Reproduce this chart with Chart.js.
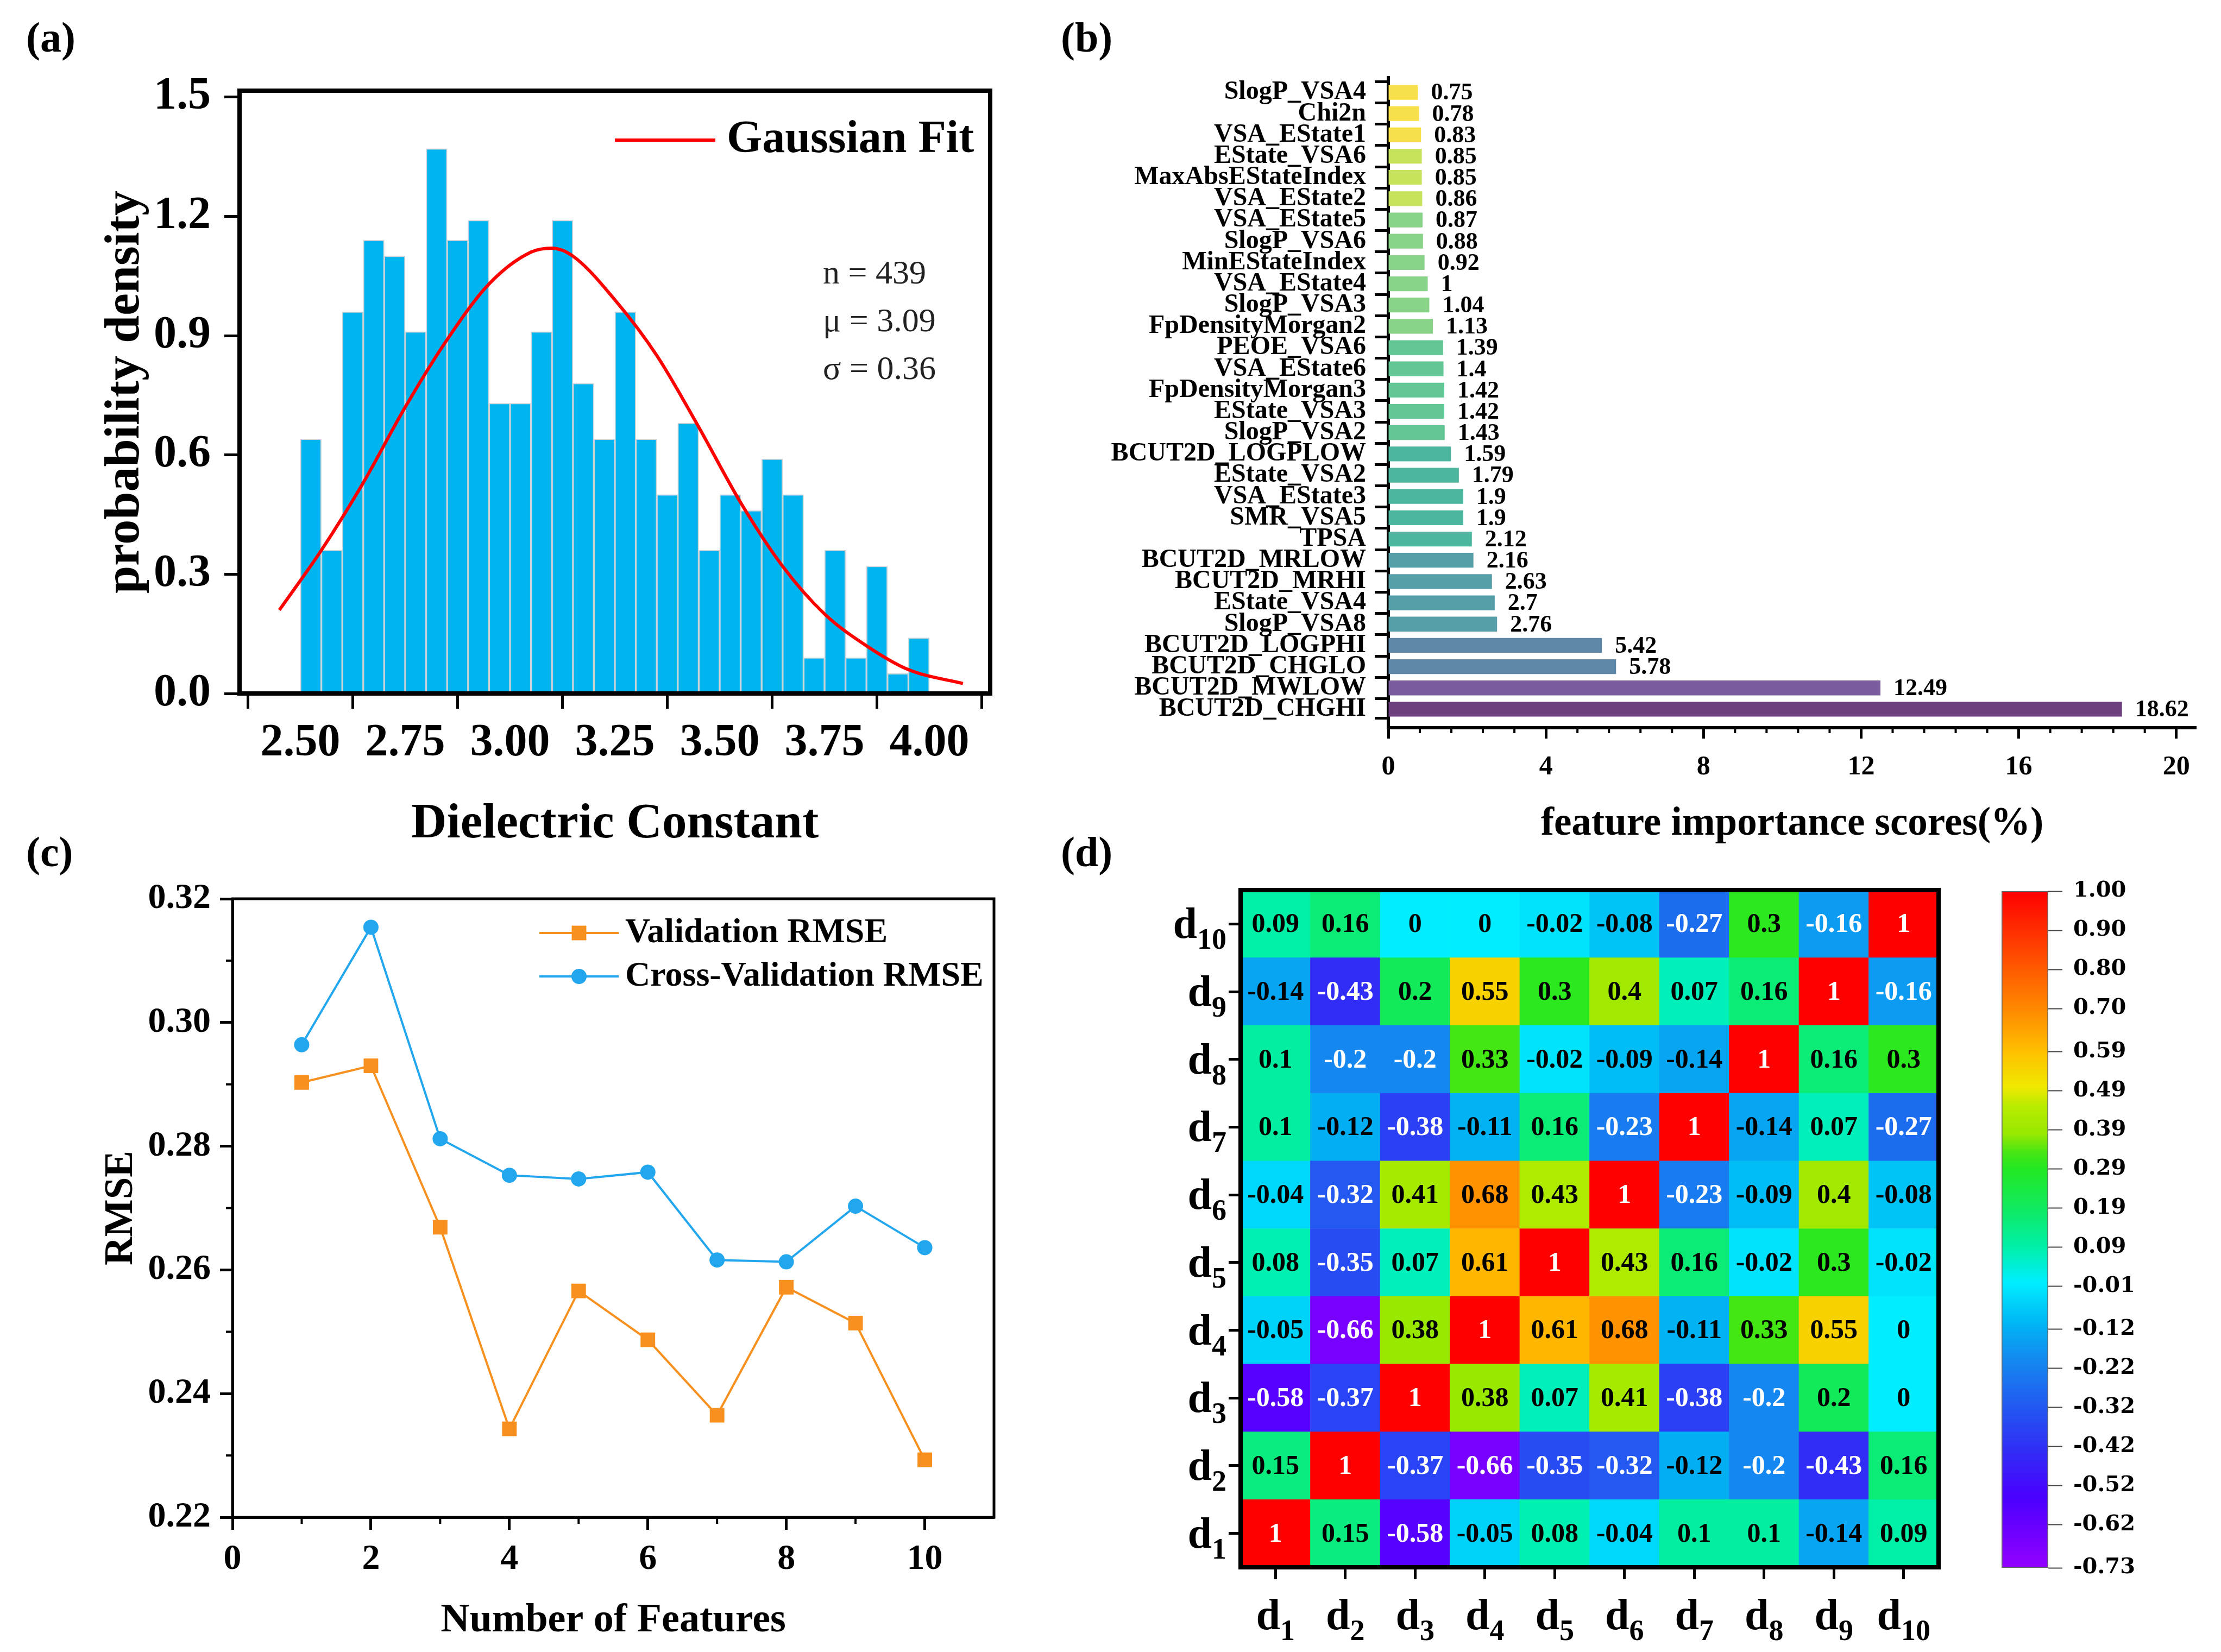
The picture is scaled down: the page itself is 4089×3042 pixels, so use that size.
<!DOCTYPE html>
<html>
<head>
<meta charset="utf-8">
<title>Dielectric constant figure</title>
<script src="https://cdn.jsdelivr.net/npm/chart.js@4.4.1/dist/chart.umd.min.js"></script>
<style>
  html, body { margin: 0; padding: 0; background: #fff; }
  body { position: relative; width: 4089px; height: 3042px; overflow: hidden; }
  canvas { position: absolute; }
  .tag { position: absolute; font: bold 78px "Liberation Serif", "Times New Roman", serif; line-height: 1; color: #000; }
</style>
</head>
<body>
<div class="tag" style="left:48px;top:30px">(a)</div>
<div class="tag" style="left:1953px;top:30px">(b)</div>
<div class="tag" style="left:48px;top:1530px">(c)</div>
<div class="tag" style="left:1953px;top:1530px">(d)</div>
<canvas id="histChart" width="1715" height="1464" style="left:185px;top:100px"></canvas>
<canvas id="importanceChart" width="2139" height="1455" style="left:1950px;top:100px"></canvas>
<canvas id="rmseChart" width="1712" height="1422" style="left:188px;top:1600px"></canvas>
<canvas id="corrChart" width="1450" height="1452" style="left:2150px;top:1590px"></canvas>
<canvas id="colorbarChart" width="439" height="1360" style="left:3650px;top:1590px"></canvas>
<script>
// ---------------- (a) histogram + gaussian fit ----------------
const binCenters = [2.525, 2.575, 2.625, 2.675, 2.725, 2.775, 2.825, 2.875, 2.925, 2.975,
                    3.025, 3.075, 3.125, 3.175, 3.225, 3.275, 3.325, 3.375, 3.425, 3.475,
                    3.525, 3.575, 3.625, 3.675, 3.725, 3.775, 3.825, 3.875, 3.925, 3.975];
const density = [0.64, 0.36, 0.96, 1.14, 1.10, 0.91, 1.37, 1.14, 1.19, 0.73,
                 0.73, 0.91, 1.19, 0.78, 0.64, 0.96, 0.64, 0.50, 0.68, 0.36,
                 0.50, 0.46, 0.59, 0.50, 0.09, 0.36, 0.09, 0.32, 0.05, 0.14];
const fitX = [2.45, 2.55, 2.65, 2.75, 2.85, 2.95, 3.05, 3.10, 3.15, 3.25, 3.35, 3.45, 3.55, 3.65, 3.75, 3.85, 3.95, 4.08];
const fitY = [0.21, 0.36, 0.53, 0.72, 0.89, 1.03, 1.11, 1.12, 1.10, 0.99, 0.85, 0.67, 0.48, 0.32, 0.20, 0.12, 0.06, 0.025];
const histXTicks = [2.50, 2.75, 3.00, 3.25, 3.50, 3.75, 4.00];
const histYTicks = [0, 0.3, 0.6, 0.9, 1.2, 1.5];
const fitStats = ['n = 439', 'μ = 3.09', 'σ = 0.36'];

// ---------------- (b) feature importance ----------------
const featureNames = ['SlogP_VSA4', 'Chi2n', 'VSA_EState1', 'EState_VSA6', 'MaxAbsEStateIndex',
  'VSA_EState2', 'VSA_EState5', 'SlogP_VSA6', 'MinEStateIndex', 'VSA_EState4',
  'SlogP_VSA3', 'FpDensityMorgan2', 'PEOE_VSA6', 'VSA_EState6', 'FpDensityMorgan3',
  'EState_VSA3', 'SlogP_VSA2', 'BCUT2D_LOGPLOW', 'EState_VSA2', 'VSA_EState3',
  'SMR_VSA5', 'TPSA', 'BCUT2D_MRLOW', 'BCUT2D_MRHI', 'EState_VSA4',
  'SlogP_VSA8', 'BCUT2D_LOGPHI', 'BCUT2D_CHGLO', 'BCUT2D_MWLOW', 'BCUT2D_CHGHI'];
const importance = [0.75, 0.78, 0.83, 0.85, 0.85, 0.86, 0.87, 0.88, 0.92, 1,
  1.04, 1.13, 1.39, 1.4, 1.42, 1.42, 1.43, 1.59, 1.79, 1.9,
  1.9, 2.12, 2.16, 2.63, 2.7, 2.76, 5.42, 5.78, 12.49, 18.62];
const importanceTicks = [0, 4, 8, 12, 16, 20];

// ---------------- (c) RMSE vs number of features ----------------
const featureCounts = [1, 2, 3, 4, 5, 6, 7, 8, 9, 10];
const valRmse = [0.2903, 0.2930, 0.2669, 0.2343, 0.2566, 0.2487, 0.2365, 0.2572, 0.2514, 0.2293];
const cvRmse = [0.2964, 0.3154, 0.2812, 0.2753, 0.2747, 0.2758, 0.2616, 0.2613, 0.2703, 0.2636];
const rmseTicks = [0.22, 0.24, 0.26, 0.28, 0.30, 0.32];
const countTicks = [0, 2, 4, 6, 8, 10];

// ---------------- (d) correlation matrix ----------------
const dIndex = ['1', '2', '3', '4', '5', '6', '7', '8', '9', '10'];
// rows d1..d10 (bottom to top), columns d1..d10
const corr = [
  [1, 0.15, -0.58, -0.05, 0.08, -0.04, 0.1, 0.1, -0.14, 0.09],
  [0.15, 1, -0.37, -0.66, -0.35, -0.32, -0.12, -0.2, -0.43, 0.16],
  [-0.58, -0.37, 1, 0.38, 0.07, 0.41, -0.38, -0.2, 0.2, 0],
  [-0.05, -0.66, 0.38, 1, 0.61, 0.68, -0.11, 0.33, 0.55, 0],
  [0.08, -0.35, 0.07, 0.61, 1, 0.43, 0.16, -0.02, 0.3, -0.02],
  [-0.04, -0.32, 0.41, 0.68, 0.43, 1, -0.23, -0.09, 0.4, -0.08],
  [0.1, -0.12, -0.38, -0.11, 0.16, -0.23, 1, -0.14, 0.07, -0.27],
  [0.1, -0.2, -0.2, 0.33, -0.02, -0.09, -0.14, 1, 0.16, 0.3],
  [-0.14, -0.43, 0.2, 0.55, 0.3, 0.4, 0.07, 0.16, 1, -0.16],
  [0.09, 0.16, 0, 0, -0.02, -0.08, -0.27, 0.3, -0.16, 1]
];
const colorbarTicks = [1.00, 0.90, 0.80, 0.70, 0.59, 0.49, 0.39, 0.29, 0.19, 0.09,
  -0.01, -0.12, -0.22, -0.32, -0.42, -0.52, -0.62, -0.73];

// ---------------- styles ----------------
const serif = '"Liberation Serif", "Times New Roman", serif';
const histColor = '#00B5EF';
const fitColor = '#FF0000';
const valColor = '#F7901E';
const cvColor = '#22A6EE';
const importanceColors = ['#F8E04B', '#F8E04B', '#F8E04B', '#C6E35B', '#C6E35B', '#C6E35B',
  '#88D388', '#88D388', '#88D388', '#88D388', '#88D388', '#88D388',
  '#62C794', '#62C794', '#62C794', '#62C794', '#62C794',
  '#4CB69E', '#4CB69E', '#4CB69E', '#4CB69E', '#4CB69E',
  '#569FA8', '#569FA8', '#569FA8', '#569FA8',
  '#5E88AA', '#5E88AA', '#7A5C9C', '#6E3F7F'];
const rainbowStops = [
  [-0.73, '#9400FF'], [-0.55, '#4A00FF'], [-0.42, '#3030F6'], [-0.30, '#2060F0'],
  [-0.20, '#1488F0'], [-0.10, '#00B8F4'], [0.00, '#00EEFF'], [0.09, '#00F0A8'],
  [0.19, '#10EA60'], [0.29, '#22E822'], [0.33, '#44E614'], [0.38, '#98E800'],
  [0.45, '#B8EC00'], [0.50, '#F0E800'], [0.59, '#FFC000'], [0.70, '#FF8800'],
  [0.85, '#FF4400'], [1.00, '#FF0000']];

Chart.defaults.font.family = serif;
Chart.defaults.font.weight = 'bold';
Chart.defaults.color = '#000';

function hexRgb(h) {
  const n = parseInt(h.slice(1), 16);
  return [(n >> 16) & 255, (n >> 8) & 255, n & 255];
}
function rainbow(v) {
  for (let i = 1; i < rainbowStops.length; i++) {
    const [v0, c0] = rainbowStops[i - 1];
    const [v1, c1] = rainbowStops[i];
    if (v <= v1) {
      const t = Math.max(0, (v - v0) / (v1 - v0));
      const a = hexRgb(c0), b = hexRgb(c1);
      return 'rgb(' + a.map((c, k) => Math.round(c + (b[k] - c) * t)).join(',') + ')';
    }
  }
  return rainbowStops[rainbowStops.length - 1][1];
}

function baseOptions(padding) {
  return {
    responsive: false,
    animation: false,
    devicePixelRatio: 1,
    events: [],
    layout: { padding: padding },
    plugins: { legend: { display: false }, tooltip: { enabled: false } }
  };
}

// box around the plot area
const framePlugin = {
  id: 'frame',
  afterDraw(chart, args, opts) {
    const { ctx, chartArea: a } = chart;
    ctx.save();
    ctx.strokeStyle = '#000';
    ctx.lineWidth = opts.width;
    ctx.strokeRect(a.left, a.top, a.right - a.left, a.bottom - a.top);
    ctx.restore();
  }
};

// short ticks between the labelled ones
const minorTickPlugin = {
  id: 'minorTicks',
  afterDraw(chart, args, opts) {
    const { ctx } = chart;
    ctx.save();
    ctx.strokeStyle = '#000';
    (opts.list || []).forEach(m => {
      const s = chart.scales[m.axis];
      const n = Math.round((m.to - m.from) / m.step);
      ctx.lineWidth = m.width;
      for (let i = 0; i <= n; i++) {
        const p = s.getPixelForValue(m.from + i * m.step);
        ctx.beginPath();
        if (s.isHorizontal()) { ctx.moveTo(p, s.top); ctx.lineTo(p, s.top + m.length); }
        else { ctx.moveTo(s.right, p); ctx.lineTo(s.right - m.length, p); }
        ctx.stroke();
      }
    });
    ctx.restore();
  }
};

// legend drawn inside the plot area
const inlineLegendPlugin = {
  id: 'inlineLegend',
  afterDraw(chart, args, opts) {
    const { ctx, chartArea: a } = chart;
    ctx.save();
    ctx.font = opts.font;
    ctx.textBaseline = 'middle';
    ctx.textAlign = 'left';
    opts.items.forEach((di, k) => {
      const ds = chart.data.datasets[di];
      const y = a.top + opts.top + k * opts.step;
      const x0 = a.left + opts.left, x1 = x0 + opts.lineLen;
      ctx.strokeStyle = ds.borderColor;
      ctx.lineWidth = ds.borderWidth;
      ctx.beginPath(); ctx.moveTo(x0, y); ctx.lineTo(x1, y); ctx.stroke();
      const xm = (x0 + x1) / 2;
      ctx.fillStyle = ds.borderColor;
      if (ds.pointStyle === 'rect') {
        const h = ds.pointRadius * Math.SQRT1_2;
        ctx.fillRect(xm - h, y - h, 2 * h, 2 * h);
      } else if (ds.pointStyle === 'circle') {
        ctx.beginPath(); ctx.arc(xm, y, ds.pointRadius, 0, Math.PI * 2); ctx.fill();
      }
      ctx.fillStyle = '#000';
      ctx.fillText(ds.label, x1 + opts.gap, y);
    });
    ctx.restore();
  }
};

// ---------------- chart (a) ----------------
const histNotes = {
  id: 'histNotes',
  afterDraw(chart) {
    const { ctx, chartArea: a } = chart;
    ctx.save();
    ctx.font = '62px ' + serif;
    ctx.fillStyle = '#222';
    ctx.textBaseline = 'middle';
    fitStats.forEach((t, i) => ctx.fillText(t, a.left + 1074, a.top + 339 + i * 88));
    ctx.restore();
  }
};

new Chart(document.getElementById('histChart'), {
  type: 'bar',
  data: {
    datasets: [
      {
        type: 'bar', label: 'Counts', order: 2,
        data: binCenters.map((x, i) => ({ x: x, y: density[i] })),
        backgroundColor: histColor, borderColor: '#C9D3D8', borderWidth: 2,
        barPercentage: 1, categoryPercentage: 1
      },
      {
        type: 'line', label: 'Gaussian Fit', order: 1,
        data: fitX.map((x, i) => ({ x: x, y: fitY[i] })),
        borderColor: fitColor, borderWidth: 6, pointRadius: 0,
        cubicInterpolationMode: 'monotone', fill: false
      }
    ]
  },
  options: Object.assign(baseOptions({ top: 57, right: 77, left: 0, bottom: 0 }), {
    scales: {
      x: {
        type: 'linear', min: 2.355, max: 4.145, offset: false,
        afterBuildTicks: s => { s.ticks = histXTicks.map(v => ({ value: v })); },
        afterFit: s => { s.height = 287; },
        border: { color: '#000', width: 8 },
        grid: { drawOnChartArea: false, tickLength: 28, tickWidth: 5, tickColor: '#000' },
        ticks: { font: { size: 84, weight: 'bold', lineHeight: 1 }, padding: 22, maxRotation: 0,
                 callback: v => Number(v).toFixed(2) },
        title: { display: true, text: 'Dielectric Constant', padding: 0,
                 font: { size: 91, weight: 'bold', lineHeight: 1 } }
      },
      y: {
        min: 0, max: 1.516,
        afterBuildTicks: s => { s.ticks = histYTicks.map(v => ({ value: v })); },
        afterFit: s => { s.width = 256; },
        border: { color: '#000', width: 8 },
        grid: { drawOnChartArea: false, tickLength: 28, tickWidth: 5, tickColor: '#000' },
        ticks: { font: { size: 84, weight: 'bold', lineHeight: 1 }, padding: 25,
                 callback: v => Number(v).toFixed(1) },
        title: { display: true, text: 'probability density', padding: 0,
                 font: { size: 92, weight: 'bold', lineHeight: 1 } }
      }
    },
    plugins: {
      legend: { display: false }, tooltip: { enabled: false },
      frame: { width: 8 },
      inlineLegend: { items: [1], left: 691, top: 91, step: 0, lineLen: 185, gap: 21,
                      font: 'bold 84px ' + serif }
    }
  }),
  plugins: [framePlugin, inlineLegendPlugin, histNotes]
});

// ---------------- chart (b) ----------------
const barValuePlugin = {
  id: 'barValues',
  afterDatasetsDraw(chart) {
    const { ctx } = chart;
    const meta = chart.getDatasetMeta(0);
    ctx.save();
    ctx.font = 'bold 44px ' + serif;
    ctx.fillStyle = '#000';
    ctx.textAlign = 'left';
    ctx.textBaseline = 'middle';
    meta.data.forEach((bar, i) => ctx.fillText(String(importance[i]), bar.x + 24, bar.y + 2));
    ctx.restore();
  }
};

const rankMin = -0.69, rankMax = 29.87;   // axis ends, in bar-slot units
new Chart(document.getElementById('importanceChart'), {
  type: 'bar',
  data: {
    datasets: [{
      label: 'feature importance',
      data: importance.map((v, i) => ({ x: v, y: i })),
      backgroundColor: importanceColors, borderWidth: 0,
      barPercentage: 0.8, categoryPercentage: 1
    }]
  },
  options: Object.assign(baseOptions({ top: 43, right: 46, left: 0, bottom: 0 }), {
    indexAxis: 'y',
    scales: {
      x: {
        type: 'linear', min: 0, max: 20.5,
        afterBuildTicks: s => { s.ticks = importanceTicks.map(v => ({ value: v })); },
        afterFit: s => { s.height = 215; },
        border: { color: '#000', width: 6 },
        grid: { drawOnChartArea: false, tickLength: 20, tickWidth: 5, tickColor: '#000' },
        ticks: { font: { size: 50, weight: 'bold', lineHeight: 1 }, padding: 28, maxRotation: 0 },
        title: { display: true, text: 'feature importance scores(%)', padding: 0,
                 font: { size: 73, weight: 'bold', lineHeight: 1 } }
      },
      y: {
        type: 'linear', reverse: true, min: rankMin, max: rankMax, offset: false,
        afterBuildTicks: s => {
          s.ticks = featureNames.map((n, i) => ({ value: i })).concat([{ value: rankMax }]);
        },
        afterFit: s => { s.width = 606; },
        border: { color: '#000', width: 6 },
        grid: { drawOnChartArea: false, tickLength: 25, tickWidth: 5, tickColor: '#000' },
        ticks: { font: { size: 48, weight: 'bold', lineHeight: 1 }, padding: 16, autoSkip: false,
                 callback: v => (Number.isInteger(v) ? featureNames[v] : '') }
      }
    },
    plugins: {
      legend: { display: false }, tooltip: { enabled: false },
      minorTicks: { list: [{ axis: 'x', from: 0, to: 20, step: 0.8, length: 10, width: 4 }] }
    }
  }),
  plugins: [barValuePlugin, minorTickPlugin]
});

// ---------------- chart (c) ----------------
new Chart(document.getElementById('rmseChart'), {
  type: 'line',
  data: {
    datasets: [
      {
        label: 'Validation RMSE',
        data: featureCounts.map((n, i) => ({ x: n, y: valRmse[i] })),
        borderColor: valColor, backgroundColor: valColor, borderWidth: 4,
        pointStyle: 'rect', pointRadius: 19, pointBorderWidth: 0, tension: 0
      },
      {
        label: 'Cross-Validation RMSE',
        data: featureCounts.map((n, i) => ({ x: n, y: cvRmse[i] })),
        borderColor: cvColor, backgroundColor: cvColor, borderWidth: 4,
        pointStyle: 'circle', pointRadius: 14, pointBorderWidth: 0, tension: 0
      }
    ]
  },
  options: Object.assign(baseOptions({ top: 55, right: 70, left: 0, bottom: 0 }), {
    scales: {
      x: {
        type: 'linear', min: 0, max: 11,
        afterBuildTicks: s => { s.ticks = countTicks.map(v => ({ value: v })); },
        afterFit: s => { s.height = 228; },
        border: { color: '#000', width: 5 },
        grid: { drawOnChartArea: false, tickLength: 23, tickWidth: 5, tickColor: '#000' },
        ticks: { font: { size: 66, weight: 'bold', lineHeight: 1 }, padding: 22, maxRotation: 0 },
        title: { display: true, text: 'Number of Features', padding: 0,
                 font: { size: 74, weight: 'bold', lineHeight: 1 } }
      },
      y: {
        min: 0.22, max: 0.32,
        afterBuildTicks: s => { s.ticks = rmseTicks.map(v => ({ value: v })); },
        afterFit: s => { s.width = 240; },
        border: { color: '#000', width: 5 },
        grid: { drawOnChartArea: false, tickLength: 23, tickWidth: 5, tickColor: '#000' },
        ticks: { font: { size: 66, weight: 'bold', lineHeight: 1 }, padding: 17,
                 callback: v => Number(v).toFixed(2) },
        title: { display: true, text: 'RMSE', padding: 0,
                 font: { size: 73, weight: 'bold', lineHeight: 1 } }
      }
    },
    plugins: {
      legend: { display: false }, tooltip: { enabled: false },
      frame: { width: 5 },
      minorTicks: { list: [
        { axis: 'x', from: 1, to: 9, step: 2, length: 12, width: 4 },
        { axis: 'y', from: 0.23, to: 0.31, step: 0.02, length: 12, width: 4 }
      ] },
      inlineLegend: { items: [0, 1], left: 565, top: 63, step: 80, lineLen: 146, gap: 12,
                      font: 'bold 64px ' + serif }
    }
  }),
  plugins: [framePlugin, minorTickPlugin, inlineLegendPlugin]
});

// ---------------- chart (d) heatmap ----------------
const cellTextPlugin = {
  id: 'cellText',
  afterDatasetsDraw(chart) {
    const { ctx } = chart;
    ctx.save();
    ctx.font = 'bold 50px ' + serif;
    ctx.textAlign = 'center';
    ctx.textBaseline = 'middle';
    corr.forEach((row, r) => {
      const meta = chart.getDatasetMeta(r);
      row.forEach((v, c) => {
        const el = meta.data[c];
        ctx.fillStyle = (v >= 0.95 || v <= -0.15) ? '#fff' : '#000';
        ctx.fillText(String(v), el.x, (el.y + el.base) / 2 + 2);
      });
    });
    ctx.restore();
  }
};

// d with subscript index on both axes
const subLabelPlugin = {
  id: 'subLabels',
  afterDraw(chart) {
    const { ctx, chartArea: a, scales: { x, y } } = chart;
    const big = 'bold 80px ' + serif, small = 'bold 54px ' + serif;
    ctx.save();
    ctx.fillStyle = '#000';
    ctx.textBaseline = 'alphabetic';
    ctx.textAlign = 'left';
    dIndex.forEach((idx, i) => {
      ctx.font = big; const wd = ctx.measureText('d').width;
      ctx.font = small; const ws = ctx.measureText(idx).width;
      // y axis label, right aligned
      const yc = y.getPixelForValue(i + 0.5);
      const xr = a.left - 26;
      ctx.font = big; ctx.fillText('d', xr - ws - wd, yc + 26);
      ctx.font = small; ctx.fillText(idx, xr - ws, yc + 46);
      // x axis label, centered on the column
      const xc = x.getPixelForValue(i);
      const x0 = xc - (wd + ws) / 2;
      ctx.font = big; ctx.fillText('d', x0, a.bottom + 114);
      ctx.font = small; ctx.fillText(idx, x0 + wd, a.bottom + 134);
    });
    ctx.restore();
  }
};

new Chart(document.getElementById('corrChart'), {
  type: 'bar',
  data: {
    labels: dIndex.map(s => 'd' + s),
    datasets: corr.map((row, r) => ({
      label: 'd' + dIndex[r],
      data: row.map(() => 1),
      backgroundColor: row.map(v => rainbow(v)),
      borderWidth: 0, barPercentage: 1, categoryPercentage: 1, stack: 'grid'
    }))
  },
  options: Object.assign(baseOptions({ top: 49, right: 31, left: 0, bottom: 0 }), {
    scales: {
      x: {
        stacked: true,
        afterFit: s => { s.height = 156; },
        border: { color: '#000', width: 8 },
        grid: { drawOnChartArea: false, offset: false, tickLength: 22, tickWidth: 5, tickColor: '#000' },
        ticks: { callback: () => '' }
      },
      y: {
        type: 'linear', stacked: true, min: 0, max: 10,
        afterBuildTicks: s => { s.ticks = dIndex.map((d, i) => ({ value: i + 0.5 })); },
        afterFit: s => { s.width = 134; },
        border: { color: '#000', width: 8 },
        grid: { drawOnChartArea: false, tickLength: 22, tickWidth: 5, tickColor: '#000' },
        ticks: { callback: () => '' }
      }
    },
    plugins: { legend: { display: false }, tooltip: { enabled: false }, frame: { width: 8 } }
  }),
  plugins: [cellTextPlugin, subLabelPlugin, framePlugin]
});

// ---------------- colour bar ----------------
const cbMax = colorbarTicks[0];
const cbMin = colorbarTicks[colorbarTicks.length - 1];
new Chart(document.getElementById('colorbarChart'), {
  type: 'bar',
  data: {
    labels: [''],
    datasets: [{
      label: 'scale',
      data: [[cbMin, cbMax]],
      backgroundColor: ctx => {
        const chart = ctx.chart;
        if (!chart.chartArea) return '#ccc';
        const ys = chart.scales.y;
        const g = chart.ctx.createLinearGradient(0, ys.getPixelForValue(cbMin), 0, ys.getPixelForValue(cbMax));
        rainbowStops.forEach(([v, c]) => g.addColorStop((v - cbMin) / (cbMax - cbMin), c));
        return g;
      },
      borderColor: '#666', borderWidth: 2, borderSkipped: false,
      barPercentage: 1, categoryPercentage: 1
    }]
  },
  options: Object.assign(baseOptions({ top: 51, right: 0, left: 35, bottom: 63 }), {
    scales: {
      x: { display: false },
      y: {
        position: 'right', min: cbMin, max: cbMax,
        afterBuildTicks: s => { s.ticks = colorbarTicks.map(v => ({ value: v })); },
        afterFit: s => { s.width = 318; },
        border: { display: false },
        grid: { drawOnChartArea: false, tickLength: 26, tickWidth: 2, tickColor: '#444' },
        ticks: { font: { family: '"DejaVu Serif", serif', size: 40, weight: 'bold', lineHeight: 1 },
                 padding: 20, callback: v => Number(v).toFixed(2) }
      }
    }
  })
});
</script>
</body>
</html>
